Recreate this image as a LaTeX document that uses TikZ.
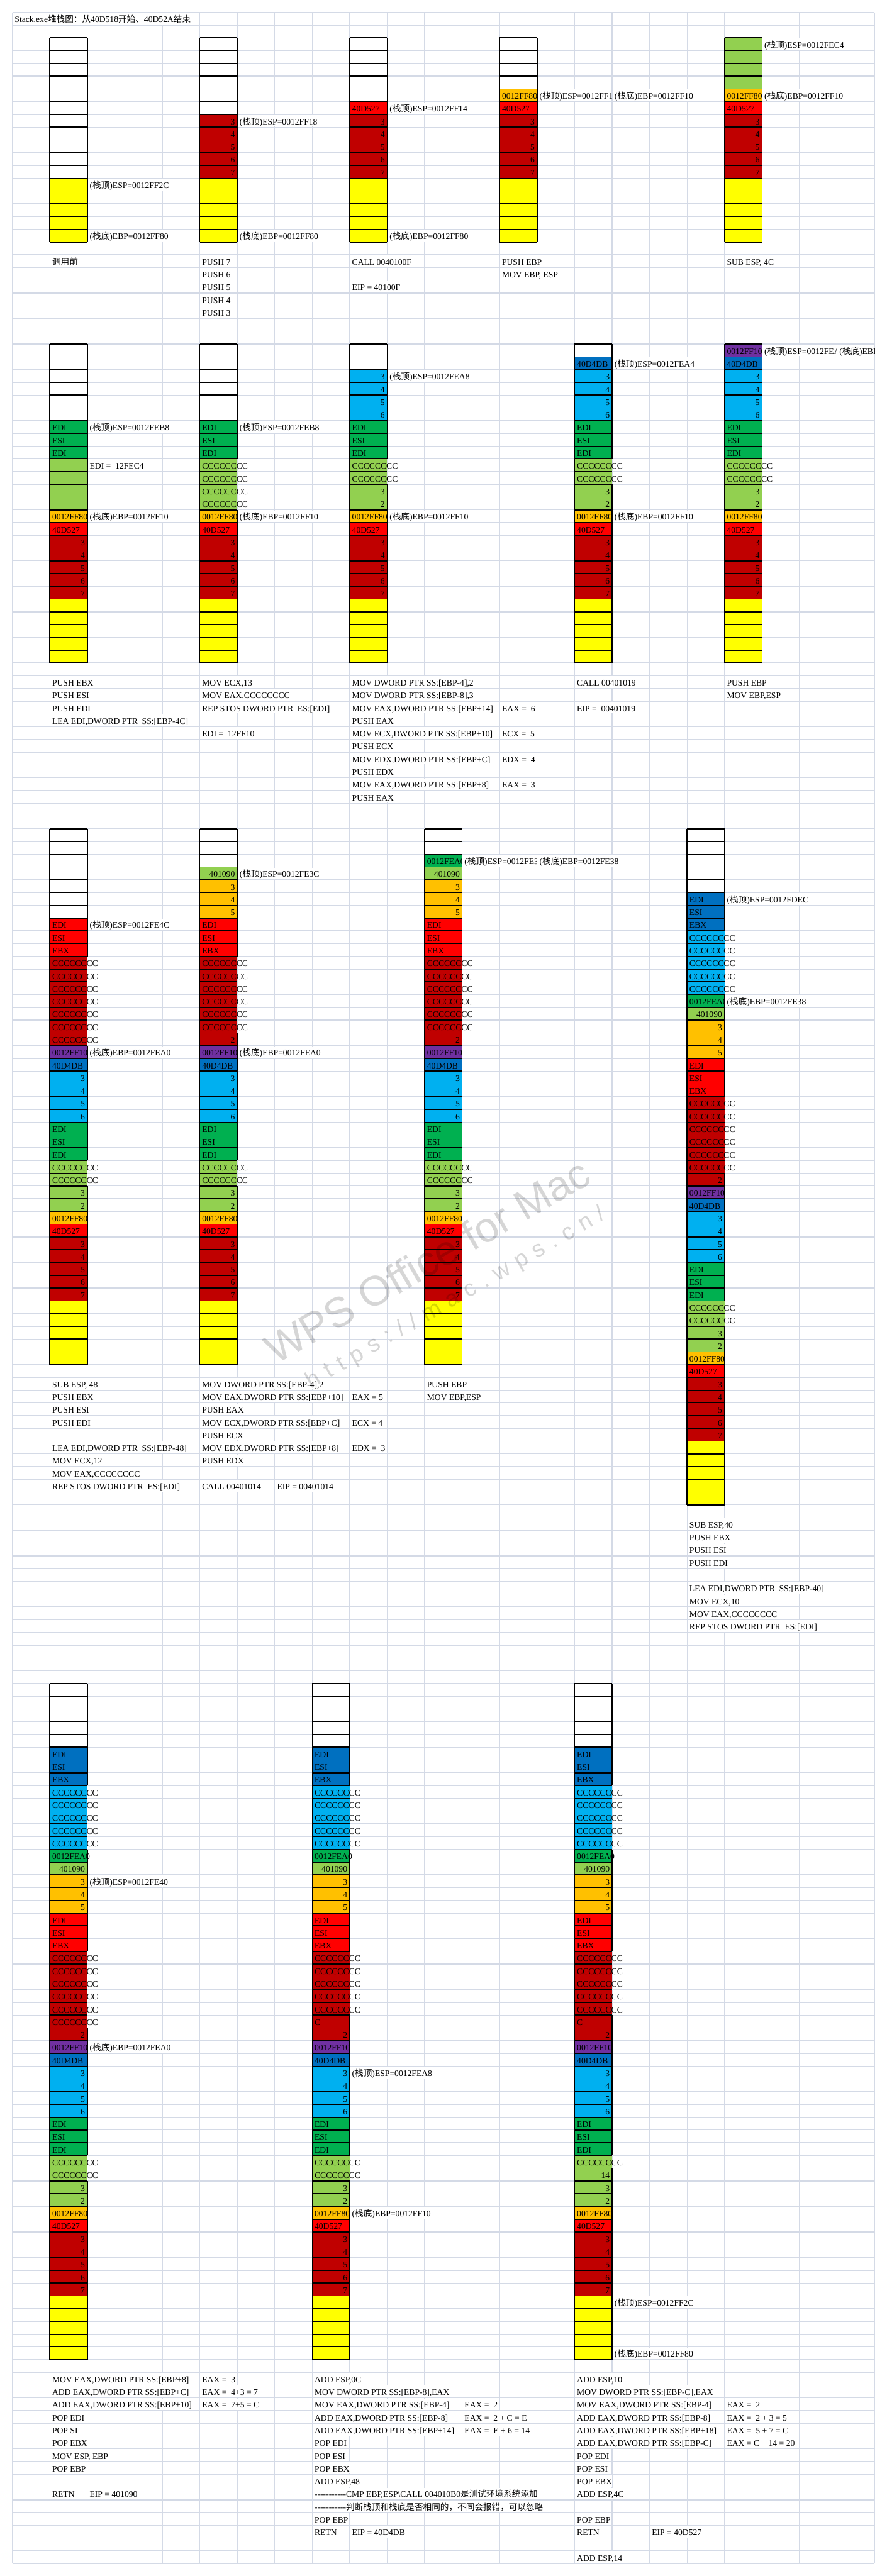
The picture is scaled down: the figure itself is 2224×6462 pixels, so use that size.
\documentclass[tikz,border=0pt]{standalone}
\usepackage{fontspec}
\setmainfont{Liberation Serif}
\newfontfamily\cjk{Noto Sans CJK SC}
\newfontfamily\wmf{Liberation Sans}
\pgfdeclarelayer{gridlayer}
\pgfdeclarelayer{patchlayer}
\pgfsetlayers{gridlayer,patchlayer,main}

\definecolor{gridc}{RGB}{212,218,230}
\definecolor{cW}{HTML}{FFFFFF}
\definecolor{cY}{HTML}{FFFF00}
\definecolor{cD}{HTML}{C00000}
\definecolor{cR}{HTML}{FF0000}
\definecolor{cO}{HTML}{FFC000}
\definecolor{cL}{HTML}{92D050}
\definecolor{cG}{HTML}{00B050}
\definecolor{cS}{HTML}{00B0F0}
\definecolor{cB}{HTML}{0070C0}
\definecolor{cP}{HTML}{7030A0}

\newcommand\zh[1]{{\cjk #1}}
\newcommand\TopL[1]{(\zh{栈顶})ESP=#1}
\newcommand\BotL[1]{(\zh{栈底})EBP=#1}
\newcommand\hyp{\mbox{-}}
\def\wsp#1{\ifx#1\relax\else#1\kern20pt\expandafter\wsp\fi}

\tikzset{
 txt/.style={inner sep=0pt,outer sep=0pt,font=\fontsize{21.5}{24}\selectfont,text=black},
 cellb/.style={draw=black,line width=2.5pt},
 gridl/.style={draw=gridc,line width=2pt},
 wm/.style={inner sep=0pt,text=black,text opacity=0.16},
}

% one stack cell: col, row, colour, text, align (n,l,r,o=overflow,c=clipped)
\newcommand\stcel[5]{%
  \pgfmathtruncatemacro\rr{#2}%
  \pgfmathsetmacro\xl{31+94*#1}%
  \pgfmathsetmacro\yt{31+32*(\rr-1)}%
  \fill[#3] (\xl,\yt) rectangle ++(94,32);%
  \draw[cellb] (\xl,\yt) -- ++(94,0) (\xl,\yt+32) -- ++(94,0) (\xl,\yt) -- ++(0,32);%
  \if#5o\else\draw[cellb] (\xl+94,\yt) -- ++(0,32);\fi
  \if#5r\node[txt,anchor=base east] (k-#1-\rr) at (\xl+88,\yt+25.5) {#4};\fi
  \if#5l\node[txt,anchor=base west] (k-#1-\rr) at (\xl+6,\yt+25.5) {#4};\fi
  \if#5o\node[txt,anchor=base west] (k-#1-\rr) at (\xl+6,\yt+25.5) {#4};\fi
  \if#5c\begin{scope}\clip (\xl,\yt) rectangle ++(94,32);\node[txt,anchor=base west] (k-#1-\rr) at (\xl+6,\yt+25.5) {#4};\end{scope}\fi
}
\newcommand\stblank[4]{\foreach \ii in {1,...,#3}{\stcel{#1}{#2+\ii-1}{#4}{}{n}}}
\newcommand\stnums[4]{\foreach[count=\ii from 0] \vv in {#4}{\stcel{#1}{#2+\ii}{#3}{\vv}{r}}}
\newcommand\stlabs[4]{\foreach[count=\ii from 0] \vv in {#4}{\stcel{#1}{#2+\ii}{#3}{\vv}{l}}}
\newcommand\stcc[4]{\foreach \ii in {1,...,#3}{\stcel{#1}{#2+\ii-1}{#4}{CCCCCCCC}{o}}}
\newcommand\stbase[2]{\stlabs{#1}{#2}{cO}{0012FF80}\stlabs{#1}{#2+1}{cR}{40D527}\stnums{#1}{#2+2}{cD}{3,4,5,6,7}\stblank{#1}{#2+7}{5}{cY}}
\newcommand\stframe[2]{\stnums{#1}{#2}{cS}{3,4,5,6}\stlabs{#1}{#2+4}{cG}{EDI,ESI,EDI}\stcc{#1}{#2+7}{2}{cL}\stnums{#1}{#2+9}{cL}{3,2}\stbase{#1}{#2+11}}

% free text in sheet: col,row,text
\newcommand\ttx[3]{%
  \pgfmathsetmacro\xl{31+94*#1}%
  \pgfmathsetmacro\yt{31+32*(#2-1)}%
  \node[txt,anchor=base west] (t-#1-#2) at (\xl+6,\yt+25.5) {#3};
  \begin{pgfonlayer}{patchlayer}
  \fill[white] (\xl+1.5,\yt+1.5) rectangle (t-#1-#2.east |- 0,\yt+30.5);
  \end{pgfonlayer}}
% clipped free text: col,row,clip col,text
\newcommand\ttxc[4]{%
  \pgfmathsetmacro\xl{31+94*#1}%
  \pgfmathsetmacro\yt{31+32*(#2-1)}%
  \pgfmathsetmacro\xc{31+94*#3}%
  \begin{scope}
  \clip (\xl,\yt) rectangle (\xc,\yt+32);
  \node[txt,anchor=base west] (t-#1-#2) at (\xl+6,\yt+25.5) {#4};
  \end{scope}
  \begin{pgfonlayer}{patchlayer}
  \fill[white] (\xl+1.5,\yt+1.5) rectangle (\xc-1.5,\yt+30.5);
  \end{pgfonlayer}}

\begin{document}
\begin{tikzpicture}[x=1pt,y=-1pt]
\useasboundingbox (0,0) rectangle (2224,6462);
\begin{pgfonlayer}{gridlayer}
\fill[white] (0,0) rectangle (2224,6462);
\foreach \ii in {0,...,23} \draw[gridl] ({31+94*\ii},31) -- ({31+94*\ii},6431);
\foreach \ii in {0,...,200} \draw[gridl] (31,{31+32*\ii}) -- (2193,{31+32*\ii});
\end{pgfonlayer}

\ttx{0}{1}{Stack.exe\zh{堆栈图：从}40D518\zh{开始、}40D52A\zh{结束}}

%================ section 1 ================
\stblank{1}{3}{11}{cW}\stblank{1}{14}{5}{cY}
\stblank{5}{3}{6}{cW}\stnums{5}{9}{cD}{3,4,5,6,7}\stblank{5}{14}{5}{cY}
\stblank{9}{3}{5}{cW}\stlabs{9}{8}{cR}{40D527}\stnums{9}{9}{cD}{3,4,5,6,7}\stblank{9}{14}{5}{cY}
\stblank{13}{3}{4}{cW}\stbase{13}{7}
\stblank{19}{3}{4}{cL}\stbase{19}{7}

\ttx{2}{14}{\TopL{0012FF2C}}
\ttx{2}{18}{\BotL{0012FF80}}
\ttx{1}{20}{\zh{调用前}}
\ttx{6}{9}{\TopL{0012FF18}}
\ttx{6}{18}{\BotL{0012FF80}}
\ttx{5}{20}{PUSH 7}
\ttx{5}{21}{PUSH 6}
\ttx{5}{22}{PUSH 5}
\ttx{5}{23}{PUSH 4}
\ttx{5}{24}{PUSH 3}
\ttx{10}{8}{\TopL{0012FF14}}
\ttx{10}{18}{\BotL{0012FF80}}
\ttx{9}{20}{CALL 0040100F}
\ttx{9}{22}{EIP = 40100F}
\ttxc{14}{7}{16}{\TopL{0012FF10}}
\ttx{16}{7}{\BotL{0012FF10}}
\ttx{13}{20}{PUSH EBP}
\ttx{13}{21}{MOV EBP, ESP}
\ttx{20}{3}{\TopL{0012FEC4}}
\ttx{20}{7}{\BotL{0012FF10}}
\ttx{19}{20}{SUB ESP, 4C}

%================ section 2 ================
\stblank{1}{27}{6}{cW}\stlabs{1}{33}{cG}{EDI,ESI,EDI}\stblank{1}{36}{4}{cL}\stbase{1}{40}
\stblank{5}{27}{6}{cW}\stlabs{5}{33}{cG}{EDI,ESI,EDI}\stcc{5}{36}{4}{cL}\stbase{5}{40}
\stblank{9}{27}{2}{cW}\stframe{9}{29}
\stblank{15}{27}{1}{cW}\stlabs{15}{28}{cB}{40D4DB}\stframe{15}{29}
\stlabs{19}{27}{cP}{0012FF10}\stlabs{19}{28}{cB}{40D4DB}\stframe{19}{29}

\ttx{2}{33}{\TopL{0012FEB8}}
\ttx{2}{36}{EDI = \ 12FEC4}
\ttx{2}{40}{\BotL{0012FF10}}
\ttx{1}{53}{PUSH EBX}
\ttx{1}{54}{PUSH ESI}
\ttx{1}{55}{PUSH EDI}
\ttx{1}{56}{LEA EDI,DWORD PTR \ SS:[EBP-4C]}
\ttx{6}{33}{\TopL{0012FEB8}}
\ttx{6}{40}{\BotL{0012FF10}}
\ttx{5}{53}{MOV ECX,13}
\ttx{5}{54}{MOV EAX,CCCCCCCC}
\ttx{5}{55}{REP STOS DWORD PTR \ ES:[EDI]}
\ttx{5}{57}{EDI = \ 12FF10}
\ttx{10}{29}{\TopL{0012FEA8}}
\ttx{10}{40}{\BotL{0012FF10}}
\ttx{9}{53}{MOV DWORD PTR SS:[EBP-4],2}
\ttx{9}{54}{MOV DWORD PTR SS:[EBP-8],3}
\ttx{9}{55}{MOV EAX,DWORD PTR SS:[EBP+14]}
\ttx{13}{55}{EAX = \ 6}
\ttx{9}{56}{PUSH EAX}
\ttx{9}{57}{MOV ECX,DWORD PTR SS:[EBP+10]}
\ttx{13}{57}{ECX = \ 5}
\ttx{9}{58}{PUSH ECX}
\ttx{9}{59}{MOV EDX,DWORD PTR SS:[EBP+C]}
\ttx{13}{59}{EDX = \ 4}
\ttx{9}{60}{PUSH EDX}
\ttx{9}{61}{MOV EAX,DWORD PTR SS:[EBP+8]}
\ttx{13}{61}{EAX = \ 3}
\ttx{9}{62}{PUSH EAX}
\ttx{16}{28}{\TopL{0012FEA4}}
\ttx{16}{40}{\BotL{0012FF10}}
\ttx{15}{53}{CALL 00401019}
\ttx{15}{55}{EIP = \ 00401019}
\ttxc{20}{27}{22}{\TopL{0012FEA0}}
\ttxc{22}{27}{23}{\BotL{0012FEA0}}
\ttx{19}{53}{PUSH EBP}
\ttx{19}{54}{MOV EBP,ESP}

%================ section 3 ================
\stblank{1}{65}{7}{cW}\stlabs{1}{72}{cR}{EDI,ESI,EBX}\stcc{1}{75}{7}{cD}\stlabs{1}{82}{cP}{0012FF10}\stlabs{1}{83}{cB}{40D4DB}\stframe{1}{84}
\stblank{5}{65}{3}{cW}\stnums{5}{68}{cL}{401090}\stnums{5}{69}{cO}{3,4,5}\stlabs{5}{72}{cR}{EDI,ESI,EBX}\stcc{5}{75}{6}{cD}\stnums{5}{81}{cD}{2}\stlabs{5}{82}{cP}{0012FF10}\stlabs{5}{83}{cB}{40D4DB}\stframe{5}{84}
\stblank{11}{65}{2}{cW}\stcel{11}{67}{cG}{0012FEA0}{c}\stnums{11}{68}{cL}{401090}\stnums{11}{69}{cO}{3,4,5}\stlabs{11}{72}{cR}{EDI,ESI,EBX}\stcc{11}{75}{6}{cD}\stnums{11}{81}{cD}{2}\stlabs{11}{82}{cP}{0012FF10}\stlabs{11}{83}{cB}{40D4DB}\stframe{11}{84}
\stblank{18}{65}{5}{cW}\stlabs{18}{70}{cB}{EDI,ESI,EBX}\stcc{18}{73}{5}{cS}\stcel{18}{78}{cG}{0012FEA0}{c}\stnums{18}{79}{cL}{401090}\stnums{18}{80}{cO}{3,4,5}\stlabs{18}{83}{cR}{EDI,ESI,EBX}\stcc{18}{86}{6}{cD}\stnums{18}{92}{cD}{2}\stlabs{18}{93}{cP}{0012FF10}\stlabs{18}{94}{cB}{40D4DB}\stframe{18}{95}

\ttx{2}{72}{\TopL{0012FE4C}}
\ttx{2}{82}{\BotL{0012FEA0}}
\ttx{1}{108}{SUB ESP, 48}
\ttx{1}{109}{PUSH EBX}
\ttx{1}{110}{PUSH ESI}
\ttx{1}{111}{PUSH EDI}
\ttx{1}{113}{LEA EDI,DWORD PTR \ SS:[EBP-48]}
\ttx{1}{114}{MOV ECX,12}
\ttx{1}{115}{MOV EAX,CCCCCCCC}
\ttx{1}{116}{REP STOS DWORD PTR \ ES:[EDI]}
\ttx{6}{68}{\TopL{0012FE3C}}
\ttx{6}{82}{\BotL{0012FEA0}}
\ttx{5}{108}{MOV DWORD PTR SS:[EBP-4],2}
\ttx{5}{109}{MOV EAX,DWORD PTR SS:[EBP+10]}
\ttx{9}{109}{EAX = 5}
\ttx{5}{110}{PUSH EAX}
\ttx{5}{111}{MOV ECX,DWORD PTR SS:[EBP+C]}
\ttx{9}{111}{ECX = 4}
\ttx{5}{112}{PUSH ECX}
\ttx{5}{113}{MOV EDX,DWORD PTR SS:[EBP+8]}
\ttx{9}{113}{EDX = \ 3}
\ttx{5}{114}{PUSH EDX}
\ttx{5}{116}{CALL 00401014}
\ttx{7}{116}{EIP = 00401014}
\ttxc{12}{67}{14}{\TopL{0012FE38}}
\ttx{14}{67}{\BotL{0012FE38}}
\ttx{11}{108}{PUSH EBP}
\ttx{11}{109}{MOV EBP,ESP}
\ttx{19}{70}{\TopL{0012FDEC}}
\ttx{19}{78}{\BotL{0012FE38}}
\ttx{18}{119}{SUB ESP,40}
\ttx{18}{120}{PUSH EBX}
\ttx{18}{121}{PUSH ESI}
\ttx{18}{122}{PUSH EDI}
\ttx{18}{124}{LEA EDI,DWORD PTR \ SS:[EBP-40]}
\ttx{18}{125}{MOV ECX,10}
\ttx{18}{126}{MOV EAX,CCCCCCCC}
\ttx{18}{127}{REP STOS DWORD PTR \ ES:[EDI]}

%================ section 4 ================
\stblank{1}{132}{5}{cW}\stlabs{1}{137}{cB}{EDI,ESI,EBX}\stcc{1}{140}{5}{cS}\stlabs{1}{145}{cG}{0012FEA0}\stnums{1}{146}{cL}{401090}\stnums{1}{147}{cO}{3,4,5}\stlabs{1}{150}{cR}{EDI,ESI,EBX}\stcc{1}{153}{6}{cD}\stnums{1}{159}{cD}{2}\stlabs{1}{160}{cP}{0012FF10}\stlabs{1}{161}{cB}{40D4DB}\stframe{1}{162}
\stblank{8}{132}{5}{cW}\stlabs{8}{137}{cB}{EDI,ESI,EBX}\stcc{8}{140}{5}{cS}\stlabs{8}{145}{cG}{0012FEA0}\stnums{8}{146}{cL}{401090}\stnums{8}{147}{cO}{3,4,5}\stlabs{8}{150}{cR}{EDI,ESI,EBX}\stcc{8}{153}{5}{cD}\stlabs{8}{158}{cD}{C}\stnums{8}{159}{cD}{2}\stlabs{8}{160}{cP}{0012FF10}\stlabs{8}{161}{cB}{40D4DB}\stframe{8}{162}
\stblank{15}{132}{5}{cW}\stlabs{15}{137}{cB}{EDI,ESI,EBX}\stcc{15}{140}{5}{cS}\stlabs{15}{145}{cG}{0012FEA0}\stnums{15}{146}{cL}{401090}\stnums{15}{147}{cO}{3,4,5}\stlabs{15}{150}{cR}{EDI,ESI,EBX}\stcc{15}{153}{5}{cD}\stlabs{15}{158}{cD}{C}\stnums{15}{159}{cD}{2}\stlabs{15}{160}{cP}{0012FF10}\stlabs{15}{161}{cB}{40D4DB}
\stnums{15}{162}{cS}{3,4,5,6}\stlabs{15}{166}{cG}{EDI,ESI,EDI}\stcc{15}{169}{1}{cL}\stnums{15}{170}{cL}{14,3,2}\stbase{15}{173}

\ttx{2}{147}{\TopL{0012FE40}}
\ttx{2}{160}{\BotL{0012FEA0}}
\ttx{1}{186}{MOV EAX,DWORD PTR SS:[EBP+8]}
\ttx{5}{186}{EAX = \ 3}
\ttx{1}{187}{ADD EAX,DWORD PTR SS:[EBP+C]}
\ttx{5}{187}{EAX = \ 4+3 = 7}
\ttx{1}{188}{ADD EAX,DWORD PTR SS:[EBP+10]}
\ttx{5}{188}{EAX = \ 7+5 = C}
\ttx{1}{189}{POP EDI}
\ttx{1}{190}{POP SI}
\ttx{1}{191}{POP EBX}
\ttx{1}{192}{MOV ESP, EBP}
\ttx{1}{193}{POP EBP}
\ttx{1}{195}{RETN}
\ttx{2}{195}{EIP = 401090}
\ttx{9}{162}{\TopL{0012FEA8}}
\ttx{9}{173}{\BotL{0012FF10}}
\ttx{8}{186}{ADD ESP,0C}
\ttx{8}{187}{MOV DWORD PTR SS:[EBP-8],EAX}
\ttx{8}{188}{MOV EAX,DWORD PTR SS:[EBP-4]}
\ttx{12}{188}{EAX = \ 2}
\ttx{8}{189}{ADD EAX,DWORD PTR SS:[EBP-8]}
\ttx{12}{189}{EAX = \ 2 + C = E}
\ttx{8}{190}{ADD EAX,DWORD PTR SS:[EBP+14]}
\ttx{12}{190}{EAX = \ E + 6 = 14}
\ttx{8}{191}{POP EDI}
\ttx{8}{192}{POP ESI}
\ttx{8}{193}{POP EBX}
\ttx{8}{194}{ADD ESP,48}
\ttx{8}{195}{\hyp\hyp\hyp\hyp\hyp\hyp\hyp\hyp\hyp\hyp\hyp CMP EBP,ESP\textbackslash CALL 004010B0\zh{是测试环境系统添加}}
\ttx{8}{196}{\hyp\hyp\hyp\hyp\hyp\hyp\hyp\hyp\hyp\hyp\hyp\zh{判断栈顶和栈底是否相同的，不同会报错，可以忽略}}
\ttx{8}{197}{POP EBP}
\ttx{8}{198}{RETN}
\ttx{9}{198}{EIP = 40D4DB}
\ttx{16}{180}{\TopL{0012FF2C}}
\ttx{16}{184}{\BotL{0012FF80}}
\ttx{15}{186}{ADD ESP,10}
\ttx{15}{187}{MOV DWORD PTR SS:[EBP-C],EAX}
\ttx{15}{188}{MOV EAX,DWORD PTR SS:[EBP-4]}
\ttx{19}{188}{EAX = \ 2}
\ttx{15}{189}{ADD EAX,DWORD PTR SS:[EBP-8]}
\ttx{19}{189}{EAX = \ 2 + 3 = 5}
\ttx{15}{190}{ADD EAX,DWORD PTR SS:[EBP+18]}
\ttx{19}{190}{EAX = \ 5 + 7 = C}
\ttx{15}{191}{ADD EAX,DWORD PTR SS:[EBP-C]}
\ttx{19}{191}{EAX = C + 14 = 20}
\ttx{15}{192}{POP EDI}
\ttx{15}{193}{POP ESI}
\ttx{15}{194}{POP EBX}
\ttx{15}{195}{ADD ESP,4C}
\ttx{15}{197}{POP EBP}
\ttx{15}{198}{RETN}
\ttx{17}{198}{EIP = 40D527}
\ttx{15}{200}{ADD ESP,14}

%================ watermark ================
\node[wm,rotate=30,anchor=base,font=\wmf\fontsize{105}{110}\selectfont] (wmA) at (1090,3195) {WPS Office for Mac};
\node[wm,rotate=30,anchor=base,font=\wmf\fontsize{58}{62}\selectfont] (wmB) at (1160,3265) {\wsp https://mac.wps.cn/\relax};
\end{tikzpicture}
\end{document}
